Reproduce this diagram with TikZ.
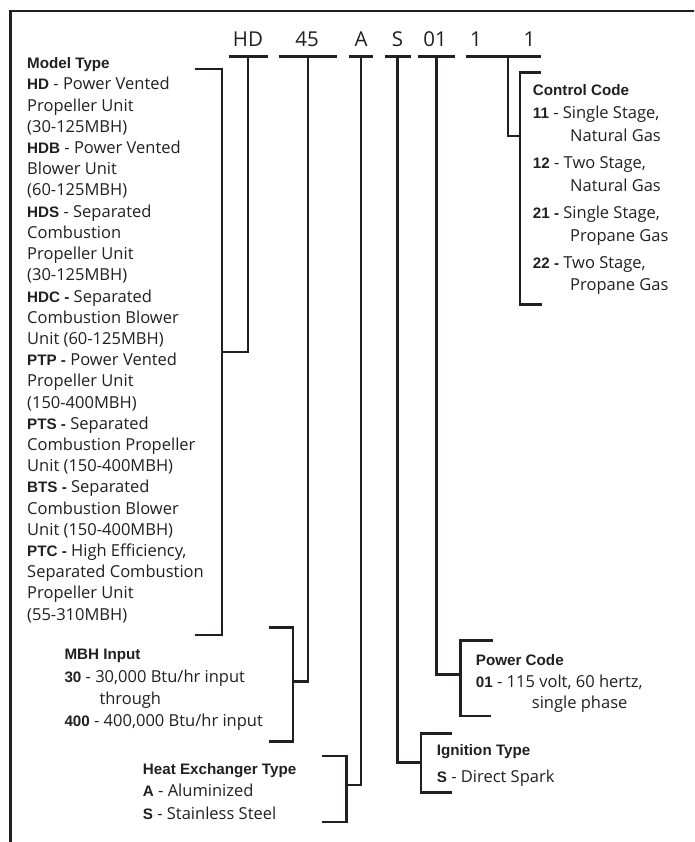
\documentclass[tikz,border=0pt]{standalone}
\usepackage{fontspec}
\setmainfont{Open Sans}
\newfontfamily\keyfont{Liberation Sans}
\usetikzlibrary{positioning}
\definecolor{inkgray}{HTML}{231F20}
\newcommand{\key}[1]{{\keyfont\bfseries\fontsize{15.2}{21}\selectfont #1}}
\tikzset{
  framebox/.style={line width=2.6pt, draw=inkgray},
  codebar/.style={line width=2.5pt, draw=inkgray},
  codetext/.style={anchor=base, inner sep=0pt, text=inkgray,
    font=\fontsize{20.5}{24}\selectfont},
  keyhead/.style={anchor=base west, inner sep=0pt, text=inkgray,
    font=\keyfont\bfseries\fontsize{15.2}{21}\selectfont},
  keyline/.style={anchor=base west, inner sep=0pt, text=inkgray,
    font=\fontsize{16.5}{21}\selectfont}
}

\begin{document}
\begin{tikzpicture}[x=1pt,y=-1pt]
    \useasboundingbox (0,0) rectangle (694,842);
    \clip (0,0) rectangle (694,842);
    \draw[framebox] (10.7,860) -- (10.7,11) -- (710,11);

    % model number
    \node[codetext] (cHD) at (248,46.5) {HD};
    \node[codetext] (c45) at (307,46.5) {45};
    \node[codetext] (cA) at (361,46.5) {A};
    \node[codetext] (cS) at (397.5,46.5) {S};
    \node[codetext] (c01) at (435,46.5) {01};
    \node[codetext] (c1a) at (476,46.5) {1};
    \node[codetext] (c1b) at (529.5,46.5) {1};

    \coordinate (bHD) at (248,56.7);
    \coordinate (b45) at (308,56.7);
    \coordinate (bA) at (361,56.7);
    \coordinate (bS) at (397.5,56.7);
    \coordinate (b01) at (436.7,56.7);
    \coordinate (b11) at (508,56.7);

    \draw[codebar] ([xshift=-19.5pt]bHD) -- ([xshift=19.5pt]bHD);
    \draw[codebar] ([xshift=-29pt]b45) -- ([xshift=29pt]b45);
    \draw[codebar] ([xshift=-12pt]bA) -- ([xshift=12pt]bA);
    \draw[codebar] ([xshift=-13pt]bS) -- ([xshift=13pt]bS);
    \draw[codebar] ([xshift=-18.5pt]b01) -- ([xshift=18.5pt]b01);
    \draw[codebar] ([xshift=-42pt]b11) -- ([xshift=33pt]b11);

    % bracket ends
    \coordinate (mtTop) at (195,69);
    \coordinate (mtJoin) at (222,352);
    \coordinate (mtBot) at (195,635);
    \coordinate (mbTop) at (269,627.3);
    \coordinate (mbJoin) at (293,681.7);
    \coordinate (mbBot) at (269,741.7);
    \coordinate (hxTop) at (321.7,756);
    \coordinate (hxJoin) at (346.7,785);
    \coordinate (hxBot) at (321.7,822);
    \coordinate (igTop) at (451.7,733.3);
    \coordinate (igJoin) at (421,762.7);
    \coordinate (igBot) at (451.7,792.7);
    \coordinate (pcTop) at (493.3,640.7);
    \coordinate (pcJoin) at (460.7,674.3);
    \coordinate (pcBot) at (490.7,716);
    \coordinate (ccTop) at (541,72.3);
    \coordinate (ccJoin) at (520,136);
    \coordinate (ccBot) at (541.7,304.3);

    \draw[codebar] (mtTop) -| (mtJoin) |- (mtBot);
    \draw[codebar] (mbTop) -| (mbJoin) |- (mbBot);
    \draw[codebar] (hxTop) -| (hxJoin) |- (hxBot);
    \draw[codebar] (igTop) -| (igJoin) |- (igBot);
    \draw[codebar] (pcTop) -| (pcJoin) |- (pcBot);
    \draw[codebar] (ccTop) -| (ccJoin) |- (ccBot);

    \draw[codebar] (bHD) |- (mtJoin);
    \draw[codebar] (b45) |- (mbJoin);
    \draw[codebar] (bA) |- (hxJoin);
    \draw[codebar] (bS) |- (igJoin);
    \draw[codebar] (b01) |- (pcJoin);
    \draw[codebar] (b11) |- (ccJoin);

    % model type
    \node[keyhead] (mtHead) at (27,68.5) {Model Type};
    \foreach \txt [count=\i from 0] in {
      {\key{HD} - Power Vented}, {Propeller Unit}, {(30-125MBH)},
      {\key{HDB} - Power Vented}, {Blower Unit}, {(60-125MBH)},
      {\key{HDS} - Separated}, {Combustion}, {Propeller Unit}, {(30-125MBH)},
      {\key{HDC -} Separated}, {Combustion Blower}, {Unit (60-125MBH)},
      {\key{PTP -} Power Vented}, {Propeller Unit}, {(150-400MBH)},
      {\key{PTS -} Separated}, {Combustion Propeller}, {Unit (150-400MBH)},
      {\key{BTS -} Separated}, {Combustion Blower}, {Unit (150-400MBH)},
      {\key{PTC -} High Efficiency,}, {Separated Combustion},
      {Propeller Unit}, {(55-310MBH)}}
      \node[keyline] (mt\i) at (27,{90+21.2*\i}) {\txt};

    % mbh input
    \node[keyhead] (mbHead) at (64.3,659) {MBH Input};
    \node[keyline] (mb1) at (64.3,682.3) {\key{30} - 30,000 Btu/hr input};
    \node[keyline] (mb2) at (99.3,704) {through};
    \node[keyline] (mb3) at (64.3,726) {\key{400} - 400,000 Btu/hr input};

    % heat exchanger
    \node[keyhead] (hxHead) at (142.7,774) {Heat Exchanger Type};
    \node[keyline] (hx1) at (142.7,796.7) {\key{A} - Aluminized};
    \node[keyline] (hx2) at (142.7,819.3) {\key{S} - Stainless Steel};

    % ignition
    \node[keyhead] (igHead) at (436.7,755) {Ignition Type};
    \node[keyline] (ig1) at (436.7,782.7) {\key{S} - Direct Spark};

    % power code
    \node[keyhead] (pcHead) at (475.7,665) {Power Code};
    \node[keyline] (pc1) at (475.7,687.7) {\key{01} - 115 volt, 60 hertz,};
    \node[keyline] (pc2) at (531.7,708.3) {single phase};

    % control code
    \node[keyhead] (ccHead) at (532.7,96) {Control Code};
    \node[keyline] (cc1) at (532.7,118.3) {\key{11} - Single Stage,};
    \node[keyline] (cc2) at (570,141.7) {Natural Gas};
    \node[keyline] (cc3) at (532.7,168.3) {\key{12} - Two Stage,};
    \node[keyline] (cc4) at (570,191.7) {Natural Gas};
    \node[keyline] (cc5) at (532.7,218.3) {\key{21 -} Single Stage,};
    \node[keyline] (cc6) at (570,241.7) {Propane Gas};
    \node[keyline] (cc7) at (532.7,268.3) {\key{22 -} Two Stage,};
    \node[keyline] (cc8) at (570,290.5) {Propane Gas};
\end{tikzpicture}
\end{document}
